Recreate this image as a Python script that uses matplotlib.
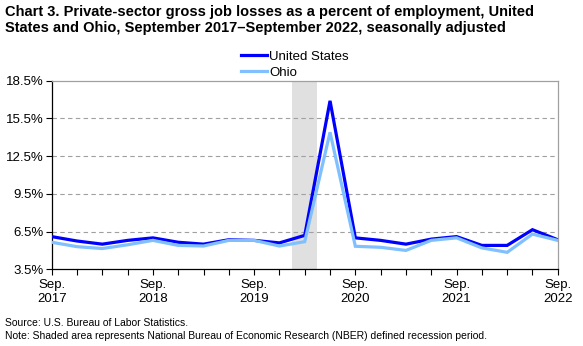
import matplotlib
matplotlib.use("Agg")
import matplotlib.pyplot as plt

plt.rcParams['font.family'] = ['Liberation Sans', 'DejaVu Sans']

quarters = ["Sep.\n2017", "", "", "", "Sep.\n2018", "", "", "", "Sep.\n2019", "", "",
            "", "Sep.\n2020", "", "", "", "Sep.\n2021", "", "", "", "Sep.\n2022"]
# 21 quarters, Sep 2017 .. Sep 2022
us_values = [6.1, 5.75, 5.5, 5.8, 6.0, 5.65, 5.5, 5.85, 5.8, 5.6, 6.2,
             16.9, 6.0, 5.8, 5.5, 5.9, 6.1, 5.4, 5.4, 6.65, 5.85]
ohio_values = [5.65, 5.3, 5.15, 5.45, 5.8, 5.4, 5.35, 5.8, 5.8, 5.35, 5.7,
               14.4, 5.33, 5.25, 5.0, 5.8, 6.0, 5.2, 4.85, 6.3, 5.8]
recession = (9.5, 10.5)
y_ticks = [3.5, 6.5, 9.5, 12.5, 15.5, 18.5]

fig = plt.figure(figsize=(5.83, 3.46), dpi=100)
ax = fig.add_axes([0.0887, 0.2217, 0.868, 0.545])

x = list(range(len(us_values)))
ax.axvspan(*recession, color='#e0e0e0', lw=0, zorder=0)
us_line, = ax.plot(x, us_values, color='#0000ff', lw=2.3, label='United States',
                   zorder=3, solid_joinstyle='miter')
oh_line, = ax.plot(x, ohio_values, color='#80c0ff', lw=2.3, label='Ohio',
                   zorder=3, solid_joinstyle='miter')

ax.set_xlim(0, len(x) - 1)
ax.set_ylim(3.5, 18.5)
ax.set_yticks(y_ticks)
ax.set_yticklabels([f"{v:.1f}%" for v in y_ticks], fontsize=9.5)
for v in y_ticks[1:-1]:
    ax.axhline(v, color='#a0a0a0', lw=0.8, ls=(0, (4, 3)), zorder=1)

ax.set_xticks(x)
ax.set_xticklabels(quarters, fontsize=9.5, linespacing=1.25)
ax.tick_params(axis='x', length=4, width=0.8, direction='out', pad=3)
ax.tick_params(axis='y', length=4, width=0.8, direction='out', pad=2)

for s in ['top', 'right']:
    ax.spines[s].set_color('#a0a0a0')
for s in ['left', 'bottom']:
    ax.spines[s].set_color('black')
for s in ax.spines.values():
    s.set_linewidth(0.9)

fig.legend(handles=[us_line, oh_line], loc='upper center',
           bbox_to_anchor=(0.506, 0.873), frameon=False, fontsize=9.5, ncol=1,
           handlelength=2.0, handletextpad=0.15, labelspacing=0.3, borderpad=0)

fig.text(0.008, 0.985, "Chart 3. Private-sector gross job losses as a percent of employment, United\n"
         "States and Ohio, September 2017\u2013September 2022, seasonally adjusted",
         fontsize=10.5, fontweight='bold', va='top', ha='left', linespacing=1.2)

fig.text(0.008, 0.052, "Source: U.S. Bureau of Labor Statistics.", fontsize=7.5,
         va='bottom', ha='left')
fig.text(0.008, 0.015, "Note: Shaded area represents National Bureau of Economic Research (NBER) "
         "defined recession period.", fontsize=7.5, va='bottom', ha='left')

fig.savefig("out.png", dpi=100)
